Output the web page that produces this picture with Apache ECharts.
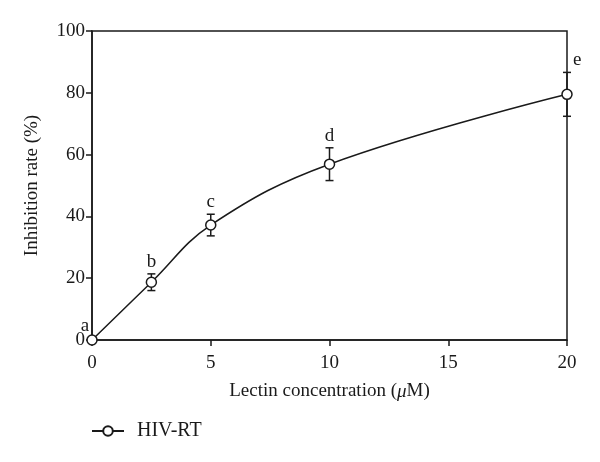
<!DOCTYPE html>
<html>
<head>
<meta charset="utf-8">
<script src="https://cdn.jsdelivr.net/npm/echarts@6/dist/echarts.min.js"></script>
<style>
  html, body { margin: 0; padding: 0; background: #fff; }
  #main { width: 600px; height: 462px; }
</style>
</head>
<body>
<div id="main"></div>
<script>
// 数据
var conc = [0, 2.5, 5, 10, 20];
var rate = [0, 18.7, 37.2, 56.9, 79.5];
var err = [0, 2.7, 3.5, 5.3, 7.1];
var letters = ['a', 'b', 'c', 'd', 'e'];

var ink = '#1a1a1a';
var serif = '"Liberation Serif", "DejaVu Serif", serif';

var lineData = [];
var barData = [];
for (var i = 0; i < conc.length; i++) {
    lineData.push([conc[i], rate[i]]);
    barData.push([conc[i], rate[i], err[i], letters[i]]);
}

var myChart = echarts.init(document.getElementById('main'));

option = {
    animation: false,
    backgroundColor: '#fff',
    grid: {
        left: 92,
        right: 33,
        top: 31,
        bottom: 122,
        show: true,
        borderColor: ink,
        borderWidth: 1.5,
        backgroundColor: 'transparent'
    },
    legend: {
        left: 86,
        top: 416,
        itemWidth: 32,
        itemHeight: 12,
        itemGap: 10,
        data: ['HIV-RT'],
        textStyle: { fontFamily: serif, fontSize: 20, color: ink, padding: [0, 0, 0, 8] }
    },
    xAxis: {
        type: 'value',
        min: 0,
        max: 20,
        interval: 5,
        name: 'Lectin concentration ({i|μ}M)',
        nameLocation: 'middle',
        nameGap: 42,
        nameTextStyle: {
            fontFamily: serif, fontSize: 19, color: ink,
            rich: { i: { fontFamily: serif, fontSize: 19, fontStyle: 'italic', color: ink } }
        },
        axisLine: { lineStyle: { color: ink, width: 1.5 } },
        axisTick: { show: true, inside: false, length: 6, lineStyle: { color: ink, width: 1.5 } },
        axisLabel: { fontFamily: serif, fontSize: 19, color: ink, margin: 14 },
        splitLine: { show: false }
    },
    yAxis: {
        type: 'value',
        min: 0,
        max: 100,
        interval: 20,
        name: 'Inhibition rate (%)',
        nameLocation: 'middle',
        nameGap: 50,
        nameTextStyle: { fontFamily: serif, fontSize: 19, color: ink },
        axisLine: { lineStyle: { color: ink, width: 1.5 } },
        axisTick: { show: true, inside: false, length: 6, lineStyle: { color: ink, width: 1.5 } },
        axisLabel: { fontFamily: serif, fontSize: 19, color: ink, margin: 7 },
        splitLine: { show: false }
    },
    series: [
        {
            name: 'HIV-RT',
            type: 'line',
            data: lineData,
            smooth: 0.4,
            symbol: 'circle',
            symbolSize: 10,
            itemStyle: { color: '#fff', borderColor: ink, borderWidth: 1.5 },
            lineStyle: { color: ink, width: 1.5 },
            z: 3
        },
        {
            name: 'err',
            type: 'custom',
            data: barData,
            z: 2,
            renderItem: function (params, api) {
                var x = api.value(0), y = api.value(1), e = api.value(2);
                var top = api.coord([x, y + e]);
                var bot = api.coord([x, y - e]);
                var p = api.coord([x, y]);
                var w = 4;
                var st = { stroke: ink, lineWidth: 1.5 };
                var kids = [];
                if (e > 0) {
                    kids.push({ type: 'line', shape: { x1: top[0], y1: top[1], x2: bot[0], y2: bot[1] }, style: st });
                    kids.push({ type: 'line', shape: { x1: top[0] - w, y1: top[1], x2: top[0] + w, y2: top[1] }, style: st });
                    kids.push({ type: 'line', shape: { x1: bot[0] - w, y1: bot[1], x2: bot[0] + w, y2: bot[1] }, style: st });
                }
                var tx, ty, align = 'center';
                if (params.dataIndex === 0) {
                    tx = p[0] - 7; ty = p[1] - 14;
                } else if (params.dataIndex === conc.length - 1) {
                    tx = top[0] + 6; ty = top[1] - 12; align = 'left';
                } else {
                    tx = top[0]; ty = top[1] - 12;
                }
                kids.push({
                    type: 'text',
                    style: {
                        text: api.value(3), x: tx, y: ty,
                        textAlign: align, textVerticalAlign: 'middle',
                        font: '19px ' + serif, fill: ink
                    }
                });
                return { type: 'group', children: kids };
            }
        }
    ]
};

myChart.setOption(option);
</script>
</body>
</html>
